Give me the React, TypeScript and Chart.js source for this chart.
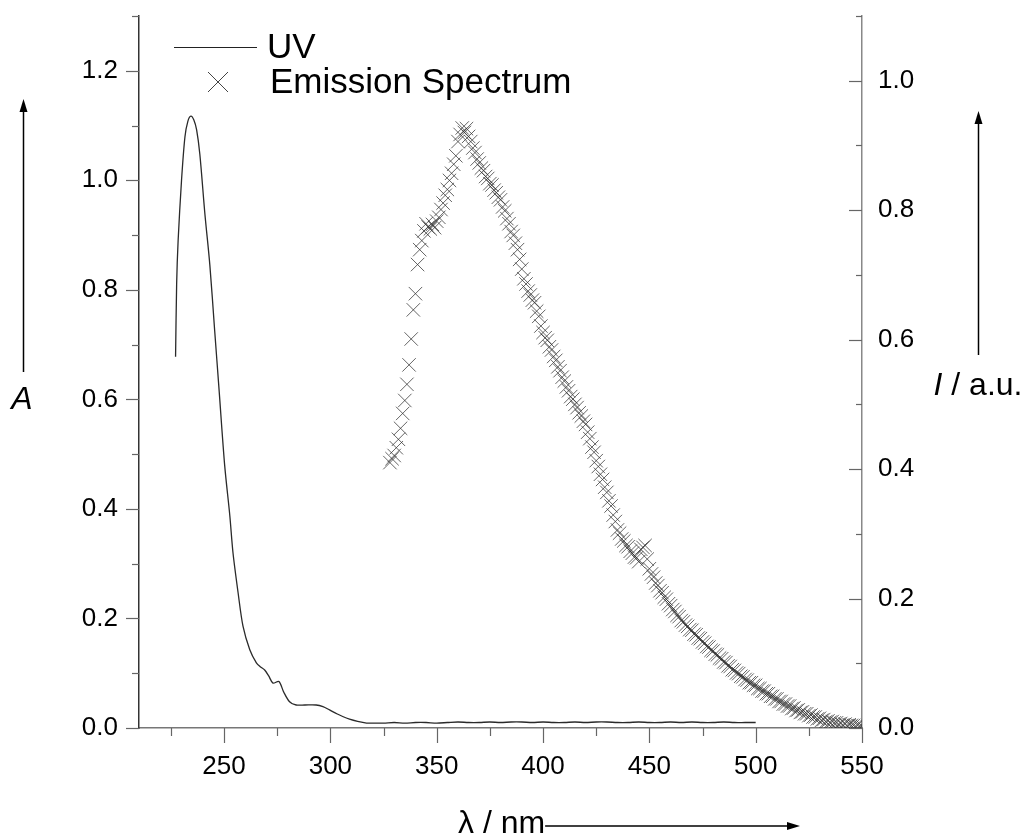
import React, { useEffect, useRef } from 'react';
import { Chart, registerables } from 'chart.js';

Chart.register(...registerables);

// ---------- data ----------
const uvWavelength = [
  227.2, 227.7, 228.4, 230.0, 231.6, 233.0, 234.4, 235.8, 237.1, 238.6,
  241.0, 243.3, 245.6, 247.7, 250.3, 252.7, 254.2, 256.6, 258.9, 262.1,
  265.2, 267.0, 269.1, 271.0, 273.0, 275.8, 278.0, 280.8, 283.9, 288.0,
  293.3, 296.5, 299.6, 303.0, 305.8, 309.0, 312.8, 317.0,
  320, 325, 330, 335, 340, 345, 350, 355, 360, 365,
  370, 375, 380, 385, 390, 395, 400, 405, 410, 415,
  420, 425, 430, 435, 440, 445, 450, 455, 460, 465,
  470, 475, 480, 485, 490, 495, 500,
];
const uvAbsorbance = [
  0.678, 0.810, 0.890, 1.000, 1.079, 1.108, 1.117, 1.110, 1.092, 1.048,
  0.938, 0.846, 0.725, 0.615, 0.479, 0.388, 0.320, 0.247, 0.186, 0.143,
  0.119, 0.112, 0.106, 0.095, 0.082, 0.085, 0.066, 0.048, 0.042, 0.042,
  0.042, 0.039, 0.033, 0.026, 0.021, 0.016, 0.012, 0.009,
  0.009, 0.009, 0.010, 0.009, 0.010, 0.010, 0.009, 0.010, 0.011, 0.010,
  0.010, 0.011, 0.010, 0.011, 0.011, 0.010, 0.011, 0.010, 0.010, 0.011,
  0.010, 0.011, 0.011, 0.010, 0.010, 0.011, 0.010, 0.010, 0.011, 0.010,
  0.011, 0.010, 0.010, 0.011, 0.010, 0.010, 0.010,
];

const emWavelength = [
  328, 329, 330, 331, 332, 333, 334, 335, 336, 337,
  338, 339, 340, 341, 342, 343, 344, 345, 346, 347,
  348, 349, 350, 351, 352, 353, 354, 355, 356, 357,
  358, 359, 360, 361, 362, 363, 364, 365, 366, 367,
  368, 369, 370, 371, 372, 373, 374, 375, 376, 377,
  378, 379, 380, 381, 382, 383, 384, 385, 386, 387,
  388, 389, 390, 391, 392, 393, 394, 395, 396, 397,
  398, 399, 400, 401, 402, 403, 404, 405, 406, 407,
  408, 409, 410, 411, 412, 413, 414, 415, 416, 417,
  418, 419, 420, 421, 422, 423, 424, 425, 426, 427,
  428, 429, 430, 431, 432, 433, 434, 435, 436, 437,
  438, 439, 440, 441, 442, 443, 444, 445, 446, 447,
  448, 449, 450, 451, 452, 453, 454, 455, 456, 457,
  458, 459, 460, 461, 462, 463, 464, 465, 466, 467,
  468, 469, 470, 471, 472, 473, 474, 475, 476, 477,
  478, 479, 480, 481, 482, 483, 484, 485, 486, 487,
  488, 489, 490, 491, 492, 493, 494, 495, 496, 497,
  498, 499, 500, 501, 502, 503, 504, 505, 506, 507,
  508, 509, 510, 511, 512, 513, 514, 515, 516, 517,
  518, 519, 520, 521, 522, 523, 524, 525, 526, 527,
  528, 529, 530, 531, 532, 533, 534, 535, 536, 537,
  538, 539, 540, 541, 542, 543, 544, 545, 546, 547,
  548, 549, 550,
];
const emIntensity = [
  0.410, 0.416, 0.421, 0.433, 0.446, 0.463, 0.486, 0.506, 0.531, 0.561,
  0.601, 0.646, 0.671, 0.716, 0.739, 0.753, 0.768, 0.779, 0.774, 0.771,
  0.778, 0.773, 0.783, 0.789, 0.801, 0.811, 0.823, 0.832, 0.846, 0.857,
  0.871, 0.884, 0.906, 0.917, 0.927, 0.920, 0.926, 0.914, 0.906, 0.896,
  0.889, 0.879, 0.873, 0.865, 0.861, 0.852, 0.849, 0.841, 0.839, 0.831,
  0.827, 0.820, 0.816, 0.805, 0.799, 0.787, 0.779, 0.767, 0.761, 0.749,
  0.739, 0.724, 0.709, 0.694, 0.686, 0.675, 0.669, 0.661, 0.657, 0.644,
  0.636, 0.621, 0.611, 0.603, 0.599, 0.589, 0.584, 0.574, 0.568, 0.558,
  0.552, 0.542, 0.536, 0.527, 0.521, 0.512, 0.508, 0.500, 0.495, 0.487,
  0.482, 0.474, 0.469, 0.457, 0.447, 0.434, 0.426, 0.413, 0.404, 0.392,
  0.384, 0.372, 0.364, 0.351, 0.343, 0.329, 0.319, 0.306, 0.301, 0.292,
  0.289, 0.282, 0.280, 0.273, 0.270, 0.264, 0.263, 0.257, 0.276, 0.279,
  0.282, 0.261, 0.246, 0.238, 0.233, 0.224, 0.220, 0.212, 0.209, 0.202,
  0.199, 0.192, 0.189, 0.183, 0.180, 0.174, 0.172, 0.166, 0.164, 0.159,
  0.157, 0.152, 0.151, 0.145, 0.144, 0.139, 0.138, 0.133, 0.131, 0.126,
  0.125, 0.120, 0.119, 0.114, 0.113, 0.108, 0.107, 0.102, 0.101, 0.096,
  0.095, 0.090, 0.089, 0.085, 0.084, 0.080, 0.079, 0.075, 0.074, 0.070,
  0.070, 0.066, 0.066, 0.061, 0.061, 0.057, 0.057, 0.053, 0.053, 0.049,
  0.049, 0.045, 0.045, 0.041, 0.041, 0.037, 0.037, 0.034, 0.034, 0.030,
  0.031, 0.027, 0.028, 0.024, 0.025, 0.022, 0.022, 0.019, 0.020, 0.017,
  0.017, 0.014, 0.015, 0.012, 0.013, 0.010, 0.011, 0.009, 0.010, 0.008,
  0.008, 0.006, 0.007, 0.005, 0.006, 0.004, 0.005, 0.004, 0.004, 0.003,
  0.004, 0.003, 0.003,
];

const seriesLabels = ['UV', 'Emission Spectrum'];
const xTitle = 'λ / nm';
const yTitle = 'A';
const y2TitleItalic = 'I';
const y2TitleRest = ' / a.u.';

// ---------- styling ----------
const FONT = "'Liberation Sans', Arial, Helvetica, sans-serif";
const TICK_COLOR = '#666';

function drawArrow(ctx: CanvasRenderingContext2D, x1: number, y1: number, x2: number, y2: number) {
  const ang = Math.atan2(y2 - y1, x2 - x1);
  const len = 13;
  const half = 4;
  const bx = x2 - Math.cos(ang) * len;
  const by = y2 - Math.sin(ang) * len;
  ctx.beginPath();
  ctx.moveTo(x1, y1);
  ctx.lineTo(bx, by);
  ctx.stroke();
  ctx.beginPath();
  ctx.moveTo(x2, y2);
  ctx.lineTo(bx + Math.sin(ang) * half, by - Math.cos(ang) * half);
  ctx.lineTo(bx - Math.sin(ang) * half, by + Math.cos(ang) * half);
  ctx.closePath();
  ctx.fill();
}

const decorPlugin = {
  id: 'decor',
  afterDraw(chart: any) {
    const ctx: CanvasRenderingContext2D = chart.ctx;
    const { left, right, bottom } = chart.chartArea;
    const xs = chart.scales.x;
    const ys = chart.scales.y;
    const y2s = chart.scales.y2;
    ctx.save();
    ctx.strokeStyle = TICK_COLOR;
    ctx.lineWidth = 1.2;
    // x ticks (outward)
    xs.ticks.forEach((t: any) => {
      const px = Math.round(xs.getPixelForValue(t.value)) + 0.5;
      const major = Math.round(t.value) % 50 === 0;
      ctx.beginPath();
      ctx.moveTo(px, bottom);
      ctx.lineTo(px, bottom + (major ? 15 : 8));
      ctx.stroke();
    });
    // left y ticks (outward)
    ys.ticks.forEach((t: any) => {
      const py = Math.round(ys.getPixelForValue(t.value)) + 0.5;
      const major = Math.round(t.value * 10) % 2 === 0;
      ctx.beginPath();
      ctx.moveTo(left - (major ? 13 : 7), py);
      ctx.lineTo(left, py);
      ctx.stroke();
    });
    // right y ticks (inward)
    y2s.ticks.forEach((t: any) => {
      const py = Math.round(y2s.getPixelForValue(t.value)) + 0.5;
      const major = Math.round(t.value * 10) % 2 === 0;
      ctx.beginPath();
      ctx.moveTo(right, py);
      ctx.lineTo(right - (major ? 13 : 6), py);
      ctx.stroke();
    });

    // legend
    ctx.fillStyle = '#000';
    ctx.textBaseline = 'alphabetic';
    ctx.textAlign = 'left';
    ctx.font = `35px ${FONT}`;
    ctx.strokeStyle = '#222';
    ctx.lineWidth = 1.2;
    ctx.beginPath();
    ctx.moveTo(174, 47.5);
    ctx.lineTo(257, 47.5);
    ctx.stroke();
    ctx.fillText(seriesLabels[0], 267, 58);
    ctx.strokeStyle = '#444';
    ctx.lineWidth = 1;
    ctx.beginPath();
    ctx.moveTo(208, 72);
    ctx.lineTo(228, 92);
    ctx.moveTo(228, 72);
    ctx.lineTo(208, 92);
    ctx.stroke();
    ctx.fillText(seriesLabels[1], 270, 93);

    // axis titles
    ctx.font = `32px ${FONT}`;
    ctx.fillText(xTitle, 458, 833);
    const xtw = ctx.measureText(xTitle).width;
    ctx.strokeStyle = '#000';
    ctx.fillStyle = '#000';
    ctx.lineWidth = 1.5;
    drawArrow(ctx, 458 + xtw, 826, 800, 826);

    ctx.font = `italic 32px ${FONT}`;
    ctx.textAlign = 'center';
    ctx.fillText(yTitle, 22, 409);
    drawArrow(ctx, 23.5, 372, 23.5, 99);

    ctx.textAlign = 'left';
    ctx.font = `italic 32px ${FONT}`;
    const iw = ctx.measureText(y2TitleItalic).width;
    ctx.font = `32px ${FONT}`;
    const rw = ctx.measureText(y2TitleRest).width;
    const ix = 978 - (iw + rw) / 2;
    ctx.font = `italic 32px ${FONT}`;
    ctx.fillText(y2TitleItalic, ix, 395);
    ctx.font = `32px ${FONT}`;
    ctx.fillText(y2TitleRest, ix + iw, 395);
    drawArrow(ctx, 978.5, 355, 978.5, 111);
    ctx.restore();
  },
};

export default function App() {
  const canvasRef = useRef<HTMLCanvasElement | null>(null);

  useEffect(() => {
    const canvas = canvasRef.current;
    if (!canvas) return;
    const uvData = uvWavelength.map((x, i) => ({ x, y: uvAbsorbance[i] }));
    const emData = emWavelength.map((x, i) => ({ x, y: emIntensity[i] }));
    const tickFont = { family: FONT, size: 26 };

    const chart = new Chart(canvas, {
      type: 'scatter',
      data: {
        datasets: [
          {
            label: seriesLabels[0],
            data: uvData,
            yAxisID: 'y',
            showLine: true,
            borderColor: '#2a2a2a',
            borderWidth: 1.3,
            pointRadius: 0,
            tension: 0.3,
          },
          {
            label: seriesLabels[1],
            data: emData,
            yAxisID: 'y2',
            showLine: false,
            pointStyle: 'crossRot',
            pointRadius: 9.5,
            pointBorderWidth: 1,
            pointBorderColor: 'rgba(50,50,50,0.75)',
            pointBackgroundColor: 'rgba(0,0,0,0)',
          },
        ],
      },
      options: {
        responsive: false,
        animation: false,
        devicePixelRatio: 1,
        layout: { padding: { top: 16, left: 0, right: 0, bottom: 0 } },
        plugins: {
          legend: { display: false },
          tooltip: { enabled: false },
          title: { display: false },
        },
        scales: {
          x: {
            type: 'linear',
            position: 'bottom',
            min: 210,
            max: 550,
            grid: { display: false, drawTicks: false },
            border: { display: true, color: '#777', width: 1.5 },
            ticks: {
              stepSize: 25,
              includeBounds: false,
              padding: 23,
              color: '#000',
              font: tickFont,
              maxRotation: 0,
              autoSkip: false,
              callback: (v: any) => (Math.round(v) % 50 === 0 ? String(Math.round(v)) : ''),
            },
            afterFit: (s: any) => {
              s.height = 111;
              s.paddingLeft = 0;
              s.paddingRight = 0;
            },
          },
          y: {
            type: 'linear',
            position: 'left',
            min: 0,
            max: 1.3,
            grid: { display: false, drawTicks: false },
            border: { display: true, color: '#333', width: 1.5 },
            ticks: {
              stepSize: 0.1,
              padding: 21,
              color: '#000',
              font: tickFont,
              autoSkip: false,
              callback: (v: any) => (Math.round(v * 10) % 2 === 0 ? Number(v).toFixed(1) : ''),
            },
            afterFit: (s: any) => {
              s.width = 139;
              s.paddingTop = 0;
              s.paddingBottom = 0;
            },
          },
          y2: {
            type: 'linear',
            position: 'right',
            min: 0,
            max: 1.1,
            grid: { display: false, drawTicks: false },
            border: { display: true, color: '#888', width: 1.5 },
            ticks: {
              stepSize: 0.1,
              padding: 16,
              color: '#000',
              font: tickFont,
              autoSkip: false,
              callback: (v: any) => (Math.round(v * 10) % 2 === 0 ? Number(v).toFixed(1) : ''),
            },
            afterFit: (s: any) => {
              s.width = 167;
              s.paddingTop = 0;
              s.paddingBottom = 0;
            },
          },
        },
      },
      plugins: [decorPlugin],
    } as any);

    return () => chart.destroy();
  }, []);

  return (
    <div style={{ position: 'absolute', left: 0, top: 0, width: 1029, height: 839, background: '#fff' }}>
      <canvas ref={canvasRef} width={1029} height={839} style={{ display: 'block' }} />
    </div>
  );
}
